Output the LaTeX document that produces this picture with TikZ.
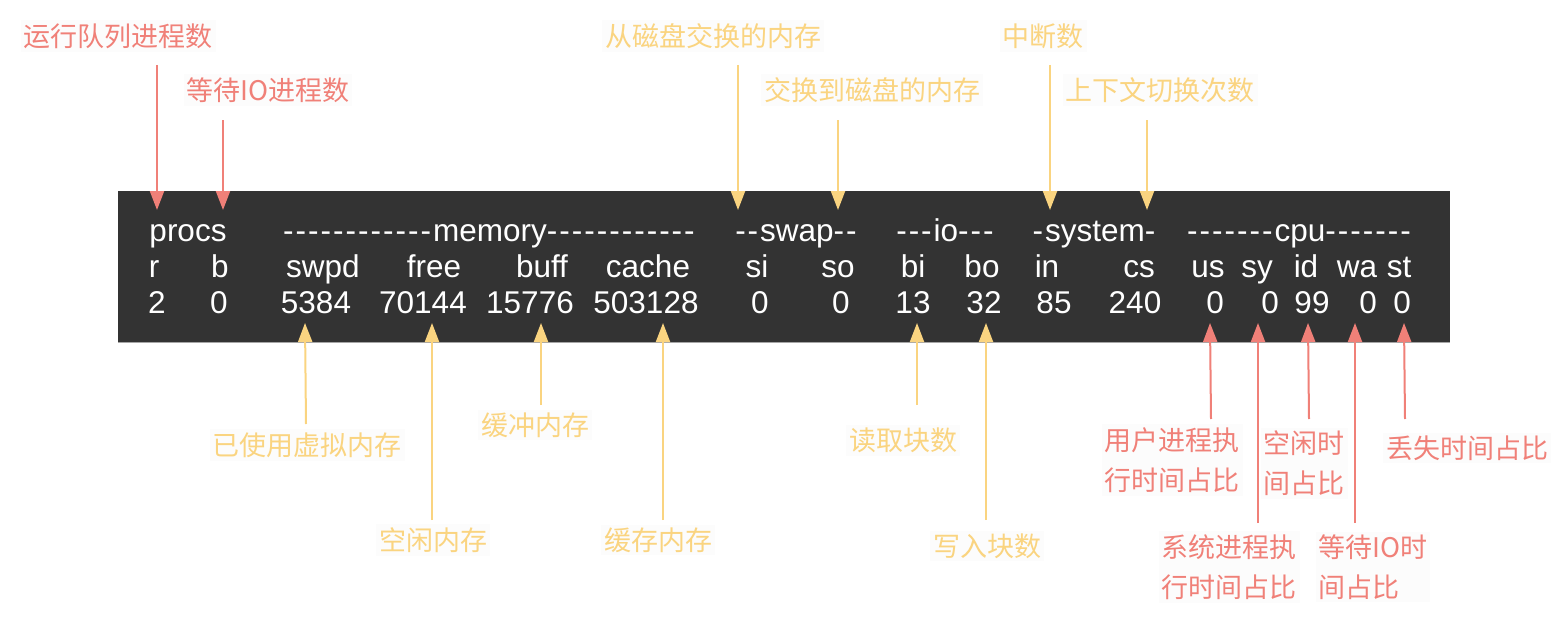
\documentclass[tikz,border=0pt]{standalone}
\usepackage{fontspec}
\newfontfamily\termfont{Liberation Sans}
\newfontfamily\cjk{Noto Sans CJK SC}
\usetikzlibrary{arrows.meta}
\definecolor{lred}{RGB}{240,128,120}
\definecolor{lyel}{RGB}{250,212,128}
\definecolor{termbg}{RGB}{51,51,51}
\definecolor{lblbg}{RGB}{252,252,252}
\newcommand\hy{-\kern2pt}
\begin{document}
\begin{tikzpicture}[x=1pt,y=-1pt,
  cell/.style={text=white,font=\termfont\fontsize{31.5}{36}\selectfont,inner sep=0pt,anchor=base},
  lbl/.style={font=\cjk\fontsize{27}{40}\selectfont,inner sep=3pt,fill=lblbg,align=left},
  rl/.style={lbl,text=lred},
  yl/.style={lbl,text=lyel},
  rarr/.style={draw=lred,line width=2pt,-{Triangle[length=19pt,width=14pt]}},
  yarr/.style={draw=lyel,line width=2pt,-{Triangle[length=19pt,width=14pt]}},
]
\useasboundingbox (0,0) rectangle (1564,618);
% terminal box
\node[fill=termbg,minimum width=1332pt,minimum height=151pt,inner sep=0pt,anchor=north west] (box) at (118,191) {};
\draw[gray!70,line width=1.5pt] (box.south west) -- (box.south east);
% row 1
\node[cell] (h1) at (188,241) {procs};
\node[cell] (h2) at (489,241) {\hy\hy\hy\hy\hy\hy\hy\hy\hy\hy\hy\hy memory\hy\hy\hy\hy\hy\hy\hy\hy\hy\hy\hy-};
\node[cell] (h3) at (796,241) {\hy\hy swap\hy-};
\node[cell] (h4) at (945,241) {\hy\hy\hy io\hy\hy-};
\node[cell] (h5) at (1094,241) {\hy system-};
\node[cell] (h6) at (1299,241) {\hy\hy\hy\hy\hy\hy\hy cpu\hy\hy\hy\hy\hy\hy-};
% row 2
\node[cell] (cr) at (154,277) {r};
\node[cell] (cb) at (220,277) {b};
\node[cell] (cswpd) at (323,277) {swpd};
\node[cell] (cfree) at (434,277) {free};
\node[cell] (cbuff) at (542,277) {buff};
\node[cell] (ccache) at (648,277) {cache};
\node[cell] (csi) at (757,277) {si};
\node[cell] (cso) at (838,277) {so};
\node[cell] (cbi) at (913,277) {bi};
\node[cell] (cbo) at (982,277) {bo};
\node[cell] (cin) at (1047,277) {in};
\node[cell] (ccs) at (1139,277) {cs};
\node[cell] (cus) at (1208,277) {us};
\node[cell] (csy) at (1257,277) {sy};
\node[cell] (cid) at (1306,277) {id};
\node[cell] (cwa) at (1357,277) {wa};
\node[cell] (cst) at (1399,277) {st};
% row 3
\node[cell] (vr) at (157,313) {2};
\node[cell] (vb) at (219,313) {0};
\node[cell] (vswpd) at (316,313) {5384};
\node[cell] (vfree) at (423,313) {70144};
\node[cell] (vbuff) at (530,313) {15776};
\node[cell] (vcache) at (646,313) {503128};
\node[cell] (vsi) at (760,313) {0};
\node[cell] (vso) at (841,313) {0};
\node[cell] (vbi) at (913,313) {13};
\node[cell] (vbo) at (984,313) {32};
\node[cell] (vin) at (1054,313) {85};
\node[cell] (vcs) at (1135,313) {240};
\node[cell] (vus) at (1215,313) {0};
\node[cell] (vsy) at (1270,313) {0};
\node[cell] (vid) at (1312,313) {99};
\node[cell] (vwa) at (1368,313) {0};
\node[cell] (vst) at (1402,313) {0};

% top labels
\node[rl] (lr) at (118,36) {运行队列进程数};
\node[rl] (lb) at (268,90) {等待IO进程数};
\node[yl] (lsi) at (713,36) {从磁盘交换的内存};
\node[yl] (lso) at (872,90) {交换到磁盘的内存};
\node[yl] (lin) at (1043,36) {中断数};
\node[yl] (lcs) at (1160,90) {上下文切换次数};

\coordinate (sr) at (157,65);   \coordinate (tr) at (157,210);
\coordinate (sb) at (223,120);  \coordinate (tb) at (223,210);
\coordinate (ssi) at (738,65);  \coordinate (tsi) at (738,210);
\coordinate (sso) at (838,120); \coordinate (tso) at (838,210);
\coordinate (sin) at (1050,65); \coordinate (tin) at (1050,210);
\coordinate (scs) at (1147,120);\coordinate (tcs) at (1147,210);
\draw[rarr] (sr) -- (tr);
\draw[rarr] (sb) -- (tb);
\draw[yarr] (ssi) -- (tsi);
\draw[yarr] (sso) -- (tso);
\draw[yarr] (sin) -- (tin);
\draw[yarr] (scs) -- (tcs);

% bottom labels
\node[yl] (lswpd) at (307,445) {已使用虚拟内存};
\node[yl] (lfree) at (433,540) {空闲内存};
\node[yl] (lbuff) at (535,425) {缓冲内存};
\node[yl] (lcache) at (658,540) {缓存内存};
\node[yl] (lbi) at (903,440) {读取块数};
\node[yl] (lbo) at (987,546) {写入块数};
\node[rl] (lus) at (1172,460) {用户进程执\\行时间占比};
\node[rl] (lsy) at (1229,567) {系统进程执\\行时间占比};
\node[rl] (lid) at (1304,463) {空闲时\\间占比};
\node[rl] (lwa) at (1373,567) {等待IO时\\间占比};
\node[rl] (lst) at (1467,448) {丢失时间占比};

\coordinate (bswpd) at (306,424);  \coordinate (aswpd) at (305,323);
\coordinate (bfree) at (432,520);  \coordinate (afree) at (432,323);
\coordinate (bbuff) at (541,405);  \coordinate (abuff) at (541,323);
\coordinate (bcache) at (663,520); \coordinate (acache) at (663,323);
\coordinate (bbi) at (917,405);    \coordinate (abi) at (917,323);
\coordinate (bbo) at (986,520);    \coordinate (abo) at (986,323);
\coordinate (bus) at (1211,419);   \coordinate (aus) at (1210,323);
\coordinate (bsy) at (1258,523);   \coordinate (asy) at (1258,323);
\coordinate (bid) at (1309,419);   \coordinate (aid) at (1308,323);
\coordinate (bwa) at (1355,523);   \coordinate (awa) at (1355,323);
\coordinate (bst) at (1405,419);   \coordinate (ast) at (1404,323);
\draw[yarr] (bswpd) -- (aswpd);
\draw[yarr] (bfree) -- (afree);
\draw[yarr] (bbuff) -- (abuff);
\draw[yarr] (bcache) -- (acache);
\draw[yarr] (bbi) -- (abi);
\draw[yarr] (bbo) -- (abo);
\draw[rarr] (bus) -- (aus);
\draw[rarr] (bsy) -- (asy);
\draw[rarr] (bid) -- (aid);
\draw[rarr] (bwa) -- (awa);
\draw[rarr] (bst) -- (ast);
\end{tikzpicture}
\end{document}
